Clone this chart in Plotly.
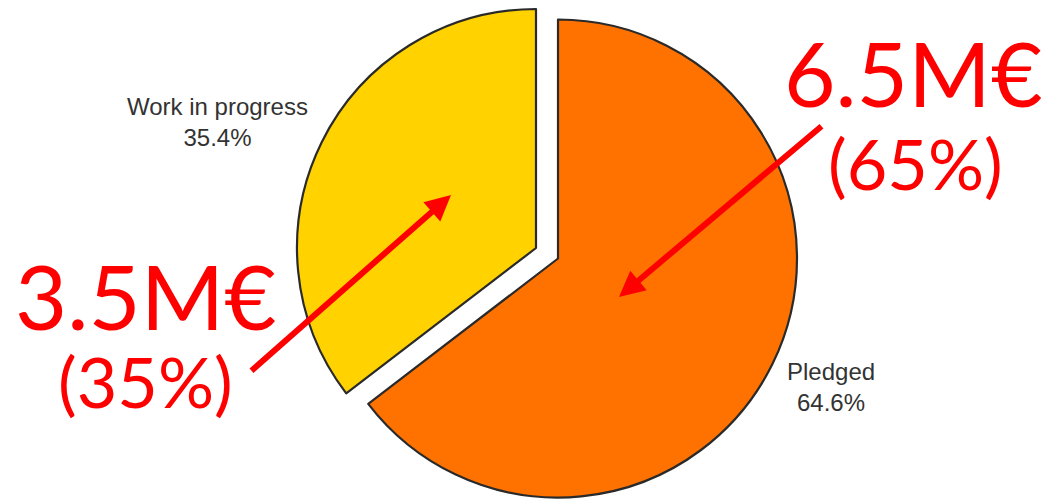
import plotly.graph_objects as go

# Budget split
labels = ["Pledged", "Work in progress"]
shares = [64.6, 35.4]          # percent of total
amounts = ["6.5M€", "3.5M€"]   # rounded amounts
rounded = ["(65%)", "(35%)"]
colors = ["#FF7200", "#FFD200"]

W, H = 1045, 501
CLEAR = "rgba(0,0,0,0)"
OUTLINE = "#2a2a2a"


def px_domain(cx, cy, r):
    """Square pie domain (paper units) centred at pixel (cx, cy) with radius r."""
    return dict(
        x=[(cx - r) / W, (cx + r) / W],
        y=[1 - (cy + r) / H, 1 - (cy - r) / H],
    )


def slice_trace(keep, cx, cy, r):
    # Both traces share the same values; only one slice is painted per trace,
    # so the exploded slice can sit on its own centre.
    return go.Pie(
        labels=labels,
        values=shares,
        sort=False,
        direction="clockwise",
        rotation=0,
        textinfo="none",
        hoverinfo="label+percent",
        showlegend=False,
        marker=dict(
            colors=[c if i == keep else CLEAR for i, c in enumerate(colors)],
            line=dict(
                color=[OUTLINE if i == keep else CLEAR for i in range(len(labels))],
                width=[2.2 if i == keep else 0 for i in range(len(labels))],
            ),
        ),
        domain=px_domain(cx, cy, r),
    )


fig = go.Figure()
fig.add_trace(slice_trace(0, 558, 258.5, 239))   # Pledged
fig.add_trace(slice_trace(1, 536, 248, 239))     # Work in progress, exploded


def P(x, y):
    return x / W, 1 - y / H


annotations = []

# Small slice labels
for (x, y), lab, val in [((217, 122), labels[1], shares[1]), ((831, 387), labels[0], shares[0])]:
    px, py = P(x, y)
    annotations.append(dict(
        x=px, y=py, xref="paper", yref="paper", showarrow=False,
        text=f"{lab}<br>{val:.1f}%",
        font=dict(family="Liberation Sans, Arial, sans-serif", size=24, color="#333333"),
        xanchor="center", yanchor="middle", align="center",
    ))

# Big red callouts
big_font = "Lato, sans-serif"
for (x, y), t, s in [
    ((913, 72), amounts[0], 89),
    ((915, 163), rounded[0], 70),
    ((145, 295), amounts[1], 90),
    ((145, 381), rounded[1], 70),
]:
    px, py = P(x, y)
    annotations.append(dict(
        x=px, y=py, xref="paper", yref="paper", showarrow=False, text=t,
        font=dict(family=big_font, size=s, color="#FF0000"),
        xanchor="center", yanchor="middle", borderpad=0,
    ))

# Arrows pointing into the slices
for (hx, hy), (tx, ty) in [((451, 195), (250, 372)), ((619, 297), (823, 125))]:
    px, py = P(hx, hy)
    annotations.append(dict(
        x=px, y=py, xref="paper", yref="paper", text="",
        showarrow=True, arrowhead=2, arrowsize=0.85, arrowwidth=6,
        arrowcolor="#FF0000", ax=tx - hx, ay=ty - hy, standoff=0,
    ))

fig.update_layout(
    width=W, height=H,
    margin=dict(l=0, r=0, t=0, b=0),
    paper_bgcolor="white", plot_bgcolor="white",
    annotations=annotations,
)

fig.write_html("out.html")
